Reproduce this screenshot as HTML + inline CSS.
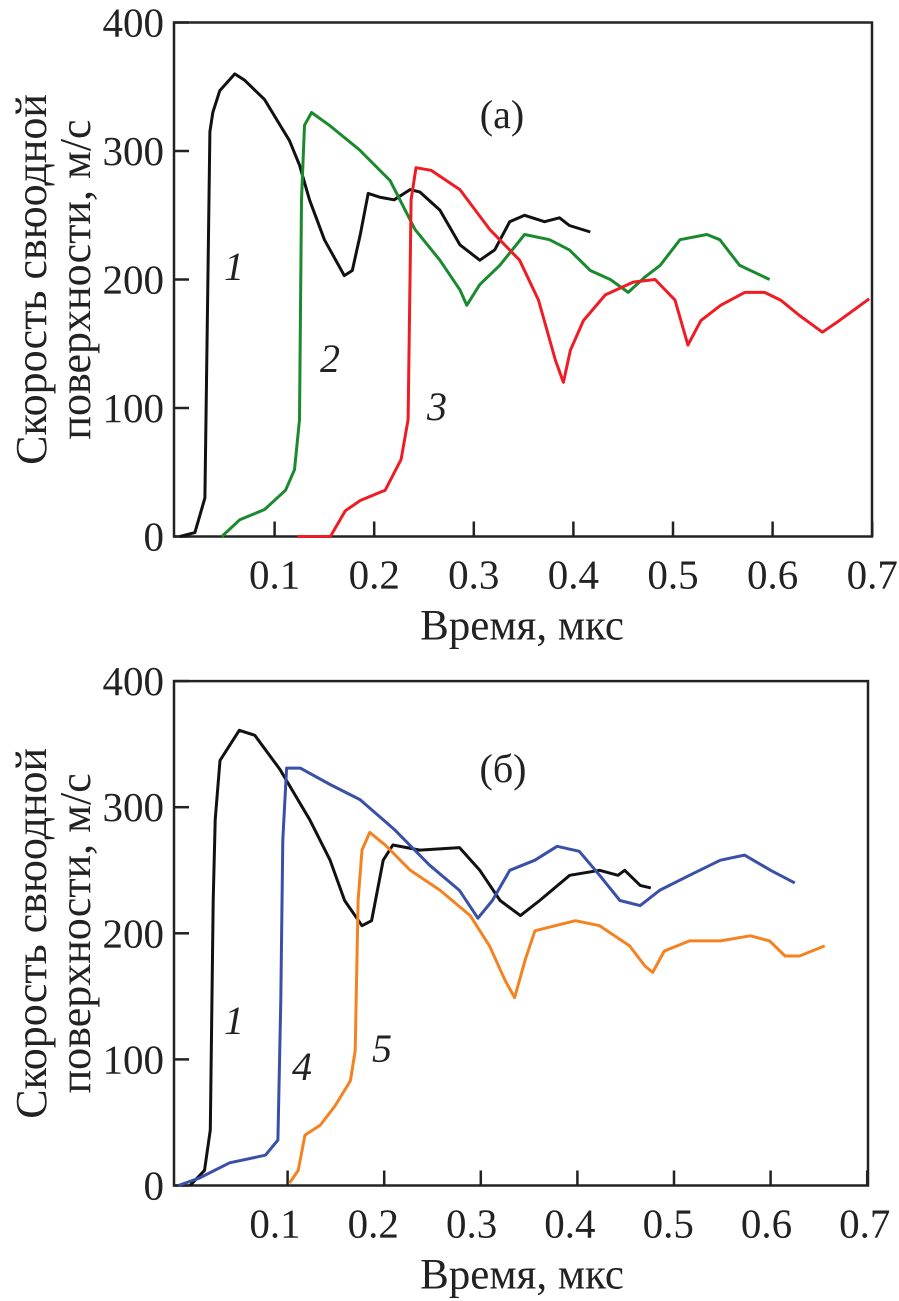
<!DOCTYPE html>
<html><head><meta charset="utf-8"><style>
body{margin:0;background:#fff}
svg{display:block;font-family:"Liberation Serif",serif}
</style></head><body>
<svg id="s" width="899" height="1301" viewBox="0 0 899 1301" xmlns="http://www.w3.org/2000/svg"></svg>
<script>
// ---- data (top chart a) ----
const xTicks=[0.1,0.2,0.3,0.4,0.5,0.6,0.7];
const yTicks=[0,100,200,300,400];
const a1t=[0.005,0.02,0.03,0.033,0.035,0.038,0.045,0.06,0.07,0.09,0.115,0.125,0.135,0.15,0.17,0.178,0.186,0.194,0.206,0.22,0.236,0.246,0.266,0.286,0.306,0.321,0.336,0.351,0.371,0.386,0.396,0.417];
const a1v=[0,3,30,200,315,330,347,360,355,340,308,289,262,231,203,207,235,267,264,262,270,268,254,227,215,223,245,250,245,248,242,237];
const a2t=[0.047,0.065,0.09,0.111,0.12,0.125,0.127,0.13,0.137,0.155,0.185,0.216,0.241,0.266,0.286,0.293,0.306,0.326,0.351,0.376,0.396,0.417,0.437,0.455,0.472,0.487,0.507,0.534,0.547,0.567,0.597];
const a2v=[0,13,21,36,52,91,262,320,330,320,301,277,239,215,192,180,196,211,235,231,223,207,200,190,202,211,231,235,231,211,200];
const a3t=[0.123,0.156,0.171,0.186,0.211,0.227,0.234,0.237,0.242,0.257,0.286,0.316,0.346,0.365,0.382,0.39,0.397,0.41,0.432,0.46,0.482,0.502,0.515,0.528,0.548,0.572,0.592,0.608,0.627,0.65,0.667,0.697];
const a3v=[0,0,20,28,36,60,91,262,287,285,270,239,215,184,137,120,145,168,188,198,200,184,149,168,180,190,190,184,172,159,168,185];
// ---- data (bottom chart б) ----
const b1t=[-0.001,0.014,0.02,0.023,0.025,0.03,0.04,0.05,0.066,0.092,0.123,0.144,0.159,0.177,0.187,0.199,0.209,0.237,0.278,0.299,0.32,0.341,0.361,0.392,0.423,0.442,0.449,0.465,0.476];
const b1v=[0,12,44,226,290,337,349,361,357,330,290,258,226,206,210,258,270,266,268,250,226,214,226,246,250,246,250,238,236];
const b4t=[-0.013,0.009,0.04,0.077,0.09,0.093,0.095,0.099,0.113,0.144,0.175,0.211,0.247,0.278,0.297,0.312,0.33,0.356,0.379,0.402,0.423,0.444,0.465,0.485,0.516,0.548,0.573,0.6,0.625];
const b4v=[0,6,18,24,36,147,274,331,331,318,306,282,254,234,212,226,250,258,269,265,246,226,222,234,246,258,262,250,240];
const b5t=[0.102,0.111,0.118,0.134,0.149,0.165,0.17,0.173,0.177,0.185,0.201,0.227,0.258,0.289,0.309,0.325,0.335,0.346,0.356,0.377,0.398,0.423,0.454,0.47,0.478,0.49,0.516,0.548,0.579,0.599,0.615,0.63,0.656];
const b5v=[2,12,40,48,63,83,107,226,266,280,270,250,234,214,190,163,149,179,202,206,210,206,190,174,169,186,194,194,198,194,182,182,190];

const S=document.getElementById('s');
const NS='http://www.w3.org/2000/svg';
function mk(tag,attrs,parent){const e=document.createElementNS(NS,tag);for(const k in attrs)e.setAttribute(k,attrs[k]);(parent||S).appendChild(e);return e;}

function chart(cfg){
  const g=mk('g',{});
  
  
  const X=t=>cfg.x0+(t)*cfg.xs;
  const LX=t=>cfg.lx0+(t)*cfg.lxs;
  const Y=v=>cfg.y0-v*cfg.ys;
  const box=mk('rect',{x:cfg.L,y:Y(400),width:cfg.R-cfg.L,height:cfg.y0-Y(400),fill:'none',stroke:'#222','stroke-width':2.5},g);
  
  
  yTicks.forEach(v=>{
    const l=mk('line',{x1:cfg.L,x2:cfg.L+15,y1:Y(v),y2:Y(v),stroke:'#222','stroke-width':2.5},g);
    
    
    const t=mk('text',{x:cfg.L-10,y:Y(v)+14,'text-anchor':'end','font-size':41,fill:'#222'},g);
    t.textContent=v;
    
    
  });
  xTicks.forEach(v=>{
    const l=mk('line',{x1:X(v),x2:X(v),y1:cfg.y0,y2:cfg.y0-15,stroke:'#222','stroke-width':2.5},g);
    
    
    const t=mk('text',{x:LX(v),y:cfg.y0+52,'text-anchor':'middle','font-size':41,fill:'#222'},g);
    t.textContent=v;
    
    
  });
  cfg.series.forEach(s=>{
    const d=s.t.map((t,i)=>(i?'L':'M')+X(t).toFixed(1)+','+Y(s.v[i]).toFixed(1)).join('');
    const p=mk('path',{d:d,fill:'none',stroke:s.c,'stroke-width':3,'stroke-linejoin':'round'},g);
    
    
  });
  cfg.labels.forEach(l=>{
    const t=mk('text',{x:l[1],y:l[2],'font-size':40,'font-style':'italic',fill:'#222'},g);
    t.textContent=l[0];
    
    
  });
  const ti=mk('text',{x:cfg.tx,y:cfg.ty,'font-size':40,fill:'#222','text-anchor':'middle'},g);
  ti.textContent=cfg.title;
  
  
  const xt=mk('text',{x:522,y:cfg.y0+103,'font-size':43,fill:'#222','text-anchor':'middle'},g);
  xt.textContent='Время, мкс';
  
  
  const cy=(Y(400)+cfg.y0)/2;
  const yt=mk('text',{transform:'translate(46,'+cy+') rotate(-90)','font-size':44,fill:'#222','text-anchor':'middle'},g);
  yt.textContent='Скорость свюодной';
  
  
  const yt2=mk('text',{transform:'translate(90,'+cy+') rotate(-90)','font-size':44,fill:'#222','text-anchor':'middle'},g);
  yt2.textContent='поверхности, м/с';
  
  
}
chart({name:'chart-a',L:174,R:872,x0:175,xs:996,lx0:175,lxs:996,y0:536.5,ys:1.285,tx:502,ty:128,title:'(а)',
  series:[{t:a1t,v:a1v,c:'#111',n:'curve-1'},{t:a2t,v:a2v,c:'#1a8a2e',n:'curve-2'},{t:a3t,v:a3v,c:'#ee1c24',n:'curve-3'}],
  labels:[['1',224,280],['2',320,372],['3',427,420]]});
chart({name:'chart-b',L:174,R:868,x0:191,xs:966,lx0:176.7,lxs:983,y0:1185.5,ys:1.261,tx:503,ty:782,title:'(б)',
  series:[{t:b1t,v:b1v,c:'#111',n:'curve-1'},{t:b4t,v:b4v,c:'#3a4fa8',n:'curve-4'},{t:b5t,v:b5v,c:'#f58220',n:'curve-5'}],
  labels:[['1',224,1034],['4',292,1080],['5',372,1062]]});
</script>
</body></html>
